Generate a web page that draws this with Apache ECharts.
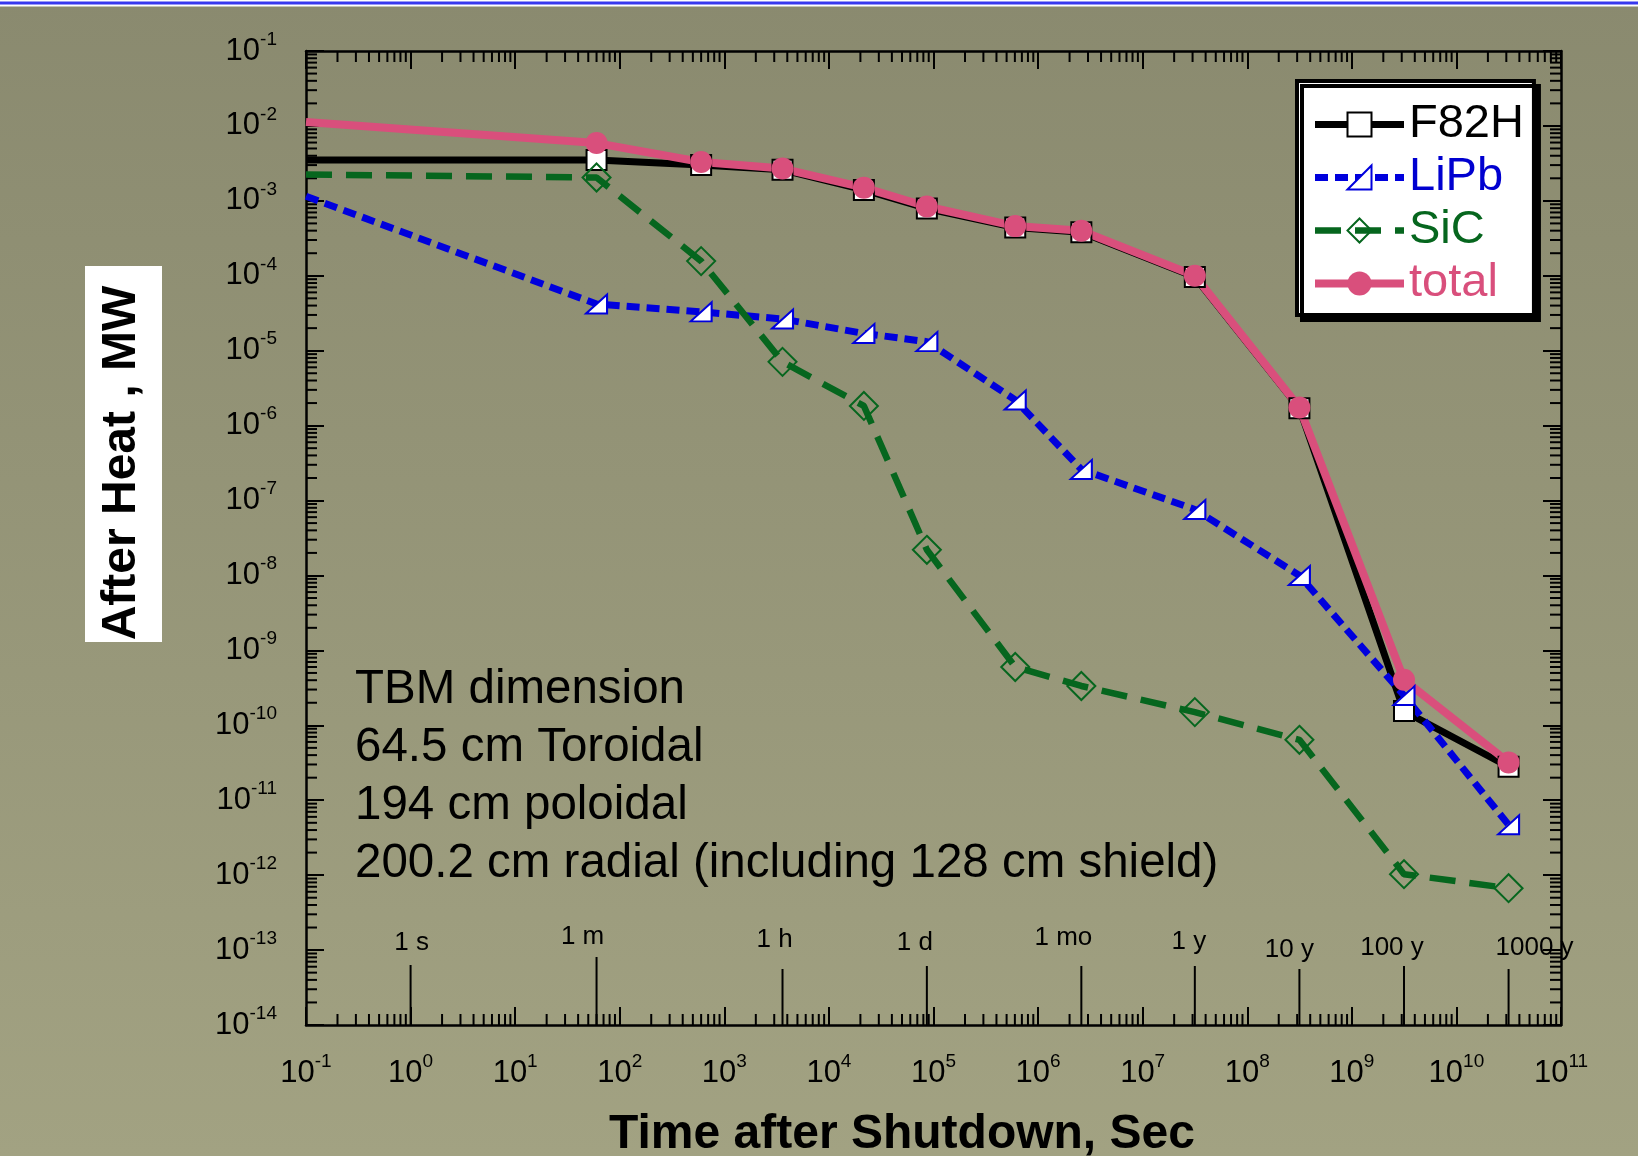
<!DOCTYPE html>
<html>
<head>
<meta charset="utf-8">
<script src="https://cdn.jsdelivr.net/npm/echarts@6/dist/echarts.min.js"></script>
<style>
html, body { margin: 0; padding: 0; }
#main { width: 1638px; height: 1156px; }
</style>
</head>
<body>
<div id="main"></div>
<script>
// time after shutdown (s); first point sits on the left edge of the plot
var times = [0.1, 60, 600, 3600, 21600, 86400, 604800, 2592000, 31536000, 315360000, 3153600000, 31536000000];
var f82h  = [3.5e-3, 3.5e-3, 3.0e-3, 2.6e-3, 1.4e-3, 7.9e-4, 4.4e-4, 3.8e-4, 9.6e-5, 1.7e-6, 1.55e-10, 2.8e-11];
var lipb  = [1.15e-3, 4.2e-5, 3.3e-5, 2.65e-5, 1.7e-5, 1.32e-5, 2.2e-6, 2.6e-7, 7.6e-8, 1.0e-8, 2.5e-10, 4.7e-12];
var sic   = [2.25e-3, 2.05e-3, 1.57e-4, 7.1e-6, 1.83e-6, 2.2e-8, 6.0e-10, 3.35e-10, 1.5e-10, 6.4e-11, 1.03e-12, 6.7e-13];
var total = [1.13e-2, 5.9e-3, 3.3e-3, 2.7e-3, 1.5e-3, 8.4e-4, 4.6e-4, 4.0e-4, 1.0e-4, 1.75e-6, 4.05e-10, 3.2e-11];

var timeMarks = [1, 60, 3600, 86400, 2592000, 31536000, 315360000, 3153600000, 31536000000];
var timeMarkLabels = ['1 s', '1 m', '1 h', '1 d', '1 mo', '1 y', '10 y', '100 y', '1000 y'];
// layout of the time markers (px)
var markLen = [60, 68, 56, 59, 59, 59, 56, 59, 56];
var markDx = [1, -14, -8, -12, -18, -6, -10, -12, 26];
var markDy = [-82, -88, -85, -82, -87, -83, -75, -77, -77];

var noteLines = ['TBM dimension', '64.5 cm Toroidal', '194 cm poloidal', '200.2 cm radial (including 128 cm shield)'];

var xMin = 0.1, xMax = 1e11, yMin = 1e-14, yMax = 0.1;
var FONT = '"Liberation Sans", Arial, sans-serif';

var xMinor = [], yMinor = [];
for (var e = -1; e < 11; e++) for (var k = 2; k < 10; k++) xMinor.push([k * Math.pow(10, e), yMin]);
for (var e2 = -14; e2 < -1; e2++) for (var k2 = 2; k2 < 10; k2++) yMinor.push([xMin, k2 * Math.pow(10, e2)]);

function pts(vals) {
    return times.map(function (t, i) {
        return i === 0 ? { value: [t, vals[i]], symbol: 'none' } : [t, vals[i]];
    });
}

function powLabel(v) {
    var ex = Math.round(Math.log(v) / Math.LN10);
    return '{b|10}{s|' + ex + '}';
}
var richLab = {
    b: { fontSize: 31, lineHeight: 42, color: '#000', fontFamily: FONT },
    s: { fontSize: 19, lineHeight: 19, verticalAlign: 'top', color: '#000', fontFamily: FONT }
};

function axisBase(extra) {
    var a = {
        type: 'log', logBase: 10, interval: 1,
        axisLine: { onZero: false, lineStyle: { color: '#000', width: 2.5 } },
        axisTick: { inside: true, length: 18, lineStyle: { color: '#000', width: 2 } },
        splitLine: { show: false }
    };
    for (var key in extra) a[key] = extra[key];
    return a;
}

var tick = function (x1, y1, x2, y2) {
    return { type: 'line', shape: { x1: x1, y1: y1, x2: x2, y2: y2 }, style: { stroke: '#000', lineWidth: 2 } };
};

var myChart = echarts.init(document.getElementById('main'));
var option = {
    animation: false,
    backgroundColor: new echarts.graphic.LinearGradient(0, 0, 0, 1, [
        { offset: 0, color: '#8a8a6f' }, { offset: 1, color: '#a2a282' }
    ]),
    textStyle: { fontFamily: FONT },
    grid: { left: 306, right: 77, top: 51, bottom: 131 },
    xAxis: [
        axisBase({ min: xMin, max: xMax, splitNumber: 12,
            axisLabel: { margin: 27, fontSize: 31, formatter: powLabel, rich: richLab } }),
        axisBase({ min: xMin, max: xMax, splitNumber: 12, position: 'top', axisLabel: { show: false } })
    ],
    yAxis: [
        axisBase({ min: yMin, max: yMax, splitNumber: 13,
            axisLabel: { margin: 29, fontSize: 31, formatter: powLabel, rich: richLab } }),
        axisBase({ min: yMin, max: yMax, splitNumber: 13, position: 'right', axisLabel: { show: false } })
    ],
    legend: {
        orient: 'vertical', left: 1297, top: 81,
        itemWidth: 89, itemHeight: 30, itemGap: 6,
        padding: [20, 10, 8, 14],
        backgroundColor: '#fff', borderColor: '#000', borderWidth: 4,
        shadowColor: '#000', shadowOffsetX: 5, shadowOffsetY: 5, shadowBlur: 0,
        selectedMode: false,
        lineStyle: { width: 'inherit' },
        textStyle: { fontSize: 47, lineHeight: 44, fontFamily: FONT },
        data: [
            { name: 'F82H', textStyle: { color: '#000' } },
            { name: 'LiPb', textStyle: { color: '#0000d0' } },
            { name: 'SiC', textStyle: { color: '#06661e' } },
            { name: 'total', textStyle: { color: '#d94f7c' } }
        ]
    },
    graphic: [
        { type: 'rect', shape: { x: 0, y: 0, width: 1638, height: 6.5 }, style: { fill: '#fff' } },
        { type: 'rect', shape: { x: 0, y: 1.5, width: 1638, height: 3 }, style: { fill: '#3838ee' } },
        { type: 'rect', shape: { x: 85, y: 266, width: 77, height: 376 }, style: { fill: '#fff' } },
        { type: 'text', x: 122, y: 463, rotation: Math.PI / 2,
          style: { text: 'After Heat , MW', font: 'bold 48px ' + FONT, fill: '#000',
                   align: 'center', verticalAlign: 'middle', textAlign: 'center', textVerticalAlign: 'middle' } },
        { type: 'text', x: 902, y: 1135,
          style: { text: 'Time after Shutdown, Sec', font: 'bold 48px ' + FONT, fill: '#000',
                   align: 'center', verticalAlign: 'middle', textAlign: 'center', textVerticalAlign: 'middle' } },
        { type: 'text', x: 355, y: 661,
          style: { text: noteLines.join('\n'), font: '47.5px ' + FONT, lineHeight: 58, fill: '#000' } }
    ],
    series: [
        {
            type: 'custom', silent: true, data: xMinor,
            renderItem: function (params, api) {
                var v = api.value(0);
                var b = api.coord([v, yMin]), t = api.coord([v, yMax]);
                return { type: 'group', children: [tick(b[0], b[1], b[0], b[1] - 11), tick(t[0], t[1], t[0], t[1] + 11)] };
            }
        },
        {
            type: 'custom', silent: true, data: yMinor,
            renderItem: function (params, api) {
                var v = api.value(1);
                var l = api.coord([xMin, v]), r = api.coord([xMax, v]);
                return { type: 'group', children: [tick(l[0], l[1], l[0] + 11, l[1]), tick(r[0], r[1], r[0] - 11, r[1])] };
            }
        },
        {
            type: 'custom', silent: true,
            data: timeMarks.map(function (t) { return [t, yMin]; }),
            renderItem: function (params, api) {
                var i = params.dataIndex;
                var p = api.coord([api.value(0), yMin]);
                return { type: 'group', children: [
                    tick(p[0], p[1], p[0], p[1] - markLen[i]),
                    { type: 'text', x: p[0] + markDx[i], y: p[1] + markDy[i],
                      style: { text: timeMarkLabels[i], font: '26px ' + FONT, fill: '#000',
                               align: 'center', verticalAlign: 'middle', textAlign: 'center', textVerticalAlign: 'middle' } }
                ] };
            }
        },
        {
            name: 'F82H', type: 'line', data: pts(f82h),
            symbol: 'rect', symbolSize: 20,
            lineStyle: { color: '#000', width: 7 },
            itemStyle: { color: '#fff', borderColor: '#000', borderWidth: 2 }
        },
        {
            name: 'LiPb', type: 'line', data: pts(lipb),
            symbol: 'path://M0,20 L20,0 L20,20 Z', symbolSize: [21, 19],
            lineStyle: { color: '#0000dd', width: 7, type: [13, 7], cap: 'butt' },
            itemStyle: { color: '#fff', borderColor: '#0000dd', borderWidth: 2 }
        },
        {
            name: 'SiC', type: 'line', data: pts(sic),
            symbol: 'diamond', symbolSize: 28,
            lineStyle: { color: '#06661e', width: 6.5, type: [26, 14], cap: 'butt' },
            itemStyle: { color: 'transparent', borderColor: '#06661e', borderWidth: 2 }
        },
        {
            name: 'total', type: 'line', data: pts(total),
            symbol: 'circle', symbolSize: 22,
            lineStyle: { color: '#d94f7c', width: 8 },
            itemStyle: { color: '#d94f7c', borderColor: '#d94f7c', borderWidth: 0 }
        }
    ]
};
if (option && typeof option === 'object') {
    myChart.setOption(option, true);
}
</script>
</body>
</html>
